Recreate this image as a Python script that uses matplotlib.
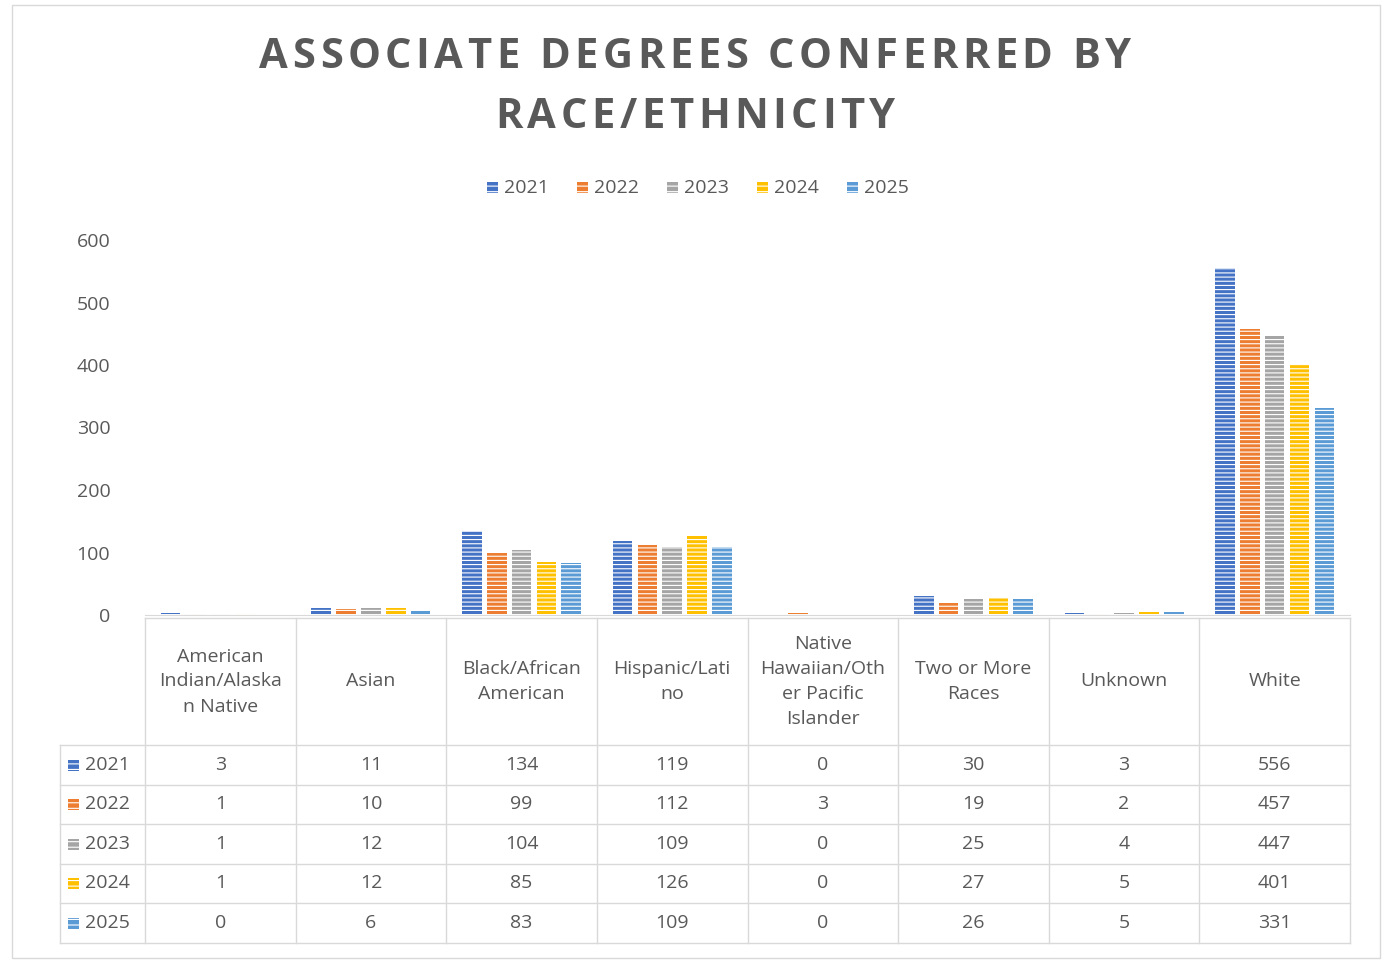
import matplotlib
matplotlib.use("Agg")
import matplotlib.pyplot as plt
from matplotlib.patches import Rectangle

categories = ["American\nIndian/Alaska\nn Native", "Asian", "Black/African\nAmerican", "Hispanic/Lati\nno",
              "Native\nHawaiian/Oth\ner Pacific\nIslander", "Two or More\nRaces", "Unknown", "White"]
years = ["2021", "2022", "2023", "2024", "2025"]
values = {
    "2021": [3, 11, 134, 119, 0, 30, 3, 556],
    "2022": [1, 10, 99, 112, 3, 19, 2, 457],
    "2023": [1, 12, 104, 109, 0, 25, 4, 447],
    "2024": [1, 12, 85, 126, 0, 27, 5, 401],
    "2025": [0, 6, 83, 109, 0, 26, 5, 331],
}
colors = ["#4472C4", "#ED7D31", "#A5A5A5", "#FFC000", "#5B9BD5"]

plt.rcParams['font.family'] = ['Open Sans', 'DejaVu Sans']
plt.rcParams['hatch.color'] = 'white'
plt.rcParams['hatch.linewidth'] = 0.8
W, H = 1390, 968
fig = plt.figure(figsize=(13.9, 9.68), dpi=100)
def fx(p): return p / W
def fy(p): return 1 - p / H

fig.patches.append(Rectangle((fx(12), fy(958)), fx(1380) - fx(12), fy(5) - fy(958),
                             transform=fig.transFigure, fill=False, ec="#D9D9D9", lw=1))

L, R, T, B = 145, 1350, 240, 615
ax = fig.add_axes([fx(L), fy(B), fx(R) - fx(L), fy(T) - fy(B)])
n = len(categories)
step, bw = 0.165, 0.13
for j, y in enumerate(years):
    xs = [i + 0.5 + (j - 2) * step for i in range(n)]
    ax.bar(xs, values[y], width=bw, color=colors[j], edgecolor="white", lw=0, hatch="----", label=y)
ax.set_xlim(0, n)
ax.set_ylim(0, 600)
ax.set_yticks(range(0, 601, 100))
ax.tick_params(axis='y', length=0, labelsize=14, labelcolor="#595959", pad=25)
ax.set_xticks([])
for s in ["top", "right", "left"]:
    ax.spines[s].set_visible(False)
ax.spines["bottom"].set_color("#D9D9D9")

# letter-spaced title
renderer = fig.canvas.get_renderer()
def spaced_title(s, ycen, extra=4.5):
    texts, widths = [], []
    for ch in s:
        t = fig.text(0, fy(ycen), ch, ha="left", va="center", fontsize=30,
                     fontweight="bold", color="#595959")
        texts.append(t)
        if ch == " ":
            widths.append(11.0)
        else:
            widths.append(t.get_window_extent(renderer).width)
    total = sum(widths) + extra * (len(s) - 1)
    x = W / 2 - total / 2
    for t, w in zip(texts, widths):
        t.set_x(fx(x))
        x += w + extra
spaced_title("ASSOCIATE DEGREES CONFERRED BY", 57)
spaced_title("RACE/ETHNICITY", 117)

# legend
lx = 487
for j, y in enumerate(years):
    x0 = lx + j * 90
    fig.patches.append(Rectangle((fx(x0), fy(193)), fx(11), fy(182) - fy(193),
                                 transform=fig.transFigure, color=colors[j], hatch="---", lw=0, ec="white"))
    fig.text(fx(x0 + 17), fy(188), y, ha="left", va="center", fontsize=14, color="#595959")

# table
lc = "#D9D9D9"
tl, ht, hb = 60, 618, 745
rh = 39.5
bottom = hb + rh * 5
colw = (R - L) / n
def hline(y, x0, x1):
    fig.add_artist(plt.Line2D([fx(x0), fx(x1)], [fy(y), fy(y)], transform=fig.transFigure, color=lc, lw=1))
def vline(x, y0, y1):
    fig.add_artist(plt.Line2D([fx(x), fx(x)], [fy(y0), fy(y1)], transform=fig.transFigure, color=lc, lw=1))
hline(ht, L, R)
for k in range(6):
    hline(hb + k * rh, tl, R)
vline(tl, hb, bottom)
for i in range(n + 1):
    vline(L + i * colw, ht, bottom)
for i, c in enumerate(categories):
    fig.text(fx(L + (i + 0.5) * colw), fy((ht + hb) / 2), c, ha="center", va="center",
             fontsize=14, color="#595959", linespacing=1.5)
for j, y in enumerate(years):
    yc = hb + (j + 0.5) * rh
    fig.patches.append(Rectangle((fx(68), fy(yc + 6)), fx(11), fy(yc - 5) - fy(yc + 6),
                                 transform=fig.transFigure, color=colors[j], hatch="---", lw=0, ec="white"))
    fig.text(fx(85), fy(yc), y, ha="left", va="center", fontsize=14, color="#595959")
    for i, v in enumerate(values[y]):
        fig.text(fx(L + (i + 0.5) * colw), fy(yc), str(v), ha="center", va="center",
                 fontsize=14, color="#595959")

fig.savefig("out.png", dpi=100)
